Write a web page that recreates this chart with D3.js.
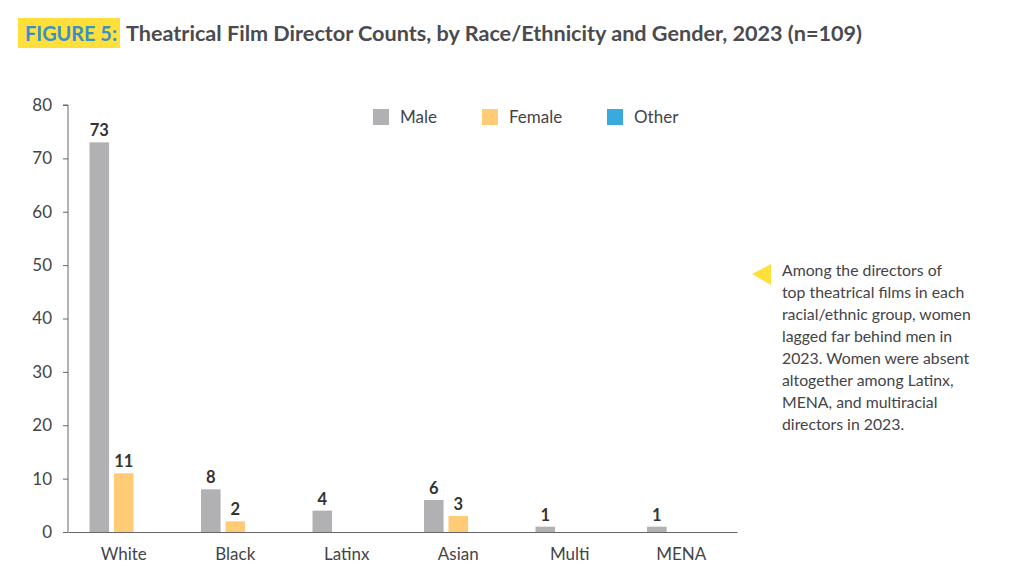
<!DOCTYPE html>
<html lang="en">
<head>
<meta charset="utf-8">
<title>Figure 5</title>
<script src="https://d3js.org/d3.v7.min.js"></script>
<style>
  body { margin: 0; background: #fff; font-family: Lato, "Open Sans", sans-serif; }
  svg text { fill: #444448; }
</style>
</head>
<body>
<script>
var categories = ["White", "Black", "Latinx", "Asian", "Multi", "MENA"];
var series = ["Male", "Female", "Other"];
var maleValues = [73, 8, 4, 6, 1, 1];
var femaleValues = [11, 2, 0, 3, 0, 0];
var otherValues = [0, 0, 0, 0, 0, 0];
var yTicks = [0, 10, 20, 30, 40, 50, 60, 70, 80];
var colors = ["#b1b1b3", "#ffcb77", "#3aaade"];
var noteLines = [
  "Among the directors of",
  "top theatrical films in each",
  "racial/ethnic group, women",
  "lagged far behind men in",
  "2023. Women were absent",
  "altogether among Latinx,",
  "MENA, and multiracial",
  "directors in 2023."
];

var width = 1020, height = 588;
var margin = {top: 105, left: 68, right: 283, bottom: 56};

var svg = d3.select("body").append("svg")
  .attr("width", width)
  .attr("height", height);

// title
svg.append("rect").attr("x", 18).attr("y", 18).attr("width", 102).attr("height", 30).attr("fill", "#ffe03a");
svg.append("text").attr("x", 25).attr("y", 41)
  .attr("textLength", 92).attr("lengthAdjust", "spacingAndGlyphs")
  .style("font-size", "20px").style("font-weight", "bold").style("fill", "#3a8fca")
  .text("FIGURE 5:");
svg.append("text").attr("x", 126).attr("y", 41)
  .attr("textLength", 736).attr("lengthAdjust", "spacingAndGlyphs")
  .style("font-size", "20.5px").style("font-weight", "bold").style("fill", "#4a4a50")
  .text("Theatrical Film Director Counts, by Race/Ethnicity and Gender, 2023 (n=109)");

var x0 = d3.scaleBand().domain(categories).range([margin.left, width - margin.right]);
var x1 = d3.scaleBand().domain(series).range([21.5, x0.bandwidth() - 21.5]).paddingInner(0.2);
var y = d3.scaleLinear().domain([0, 80]).range([height - margin.bottom, margin.top]);

var rows = categories.map(function(c, i) {
  return {cat: c, vals: [maleValues[i], femaleValues[i], otherValues[i]]};
});

// y axis
var yAxis = svg.append("g").attr("transform", "translate(" + margin.left + ",0)")
  .call(d3.axisLeft(y).tickValues(yTicks).tickSize(5).tickPadding(11));
yAxis.select(".domain").attr("stroke", "#666").attr("d", "M-5," + y(80) + "H0V" + y(0));
yAxis.selectAll(".tick line").attr("stroke", "#666");
yAxis.selectAll(".tick text").style("font-size", "17px").style("font-family", "Lato, sans-serif");

// x axis
var xAxis = svg.append("g").attr("transform", "translate(0," + y(0) + ")")
  .call(d3.axisBottom(x0).tickSize(0).tickPadding(16));
xAxis.select(".domain").attr("stroke", "#666");
xAxis.selectAll(".tick text").style("font-size", "17px").style("font-family", "Lato, sans-serif");

// bars
function barData(d) {
  return d.vals.map(function(v, j) { return {s: series[j], v: v, j: j}; })
    .filter(function(e) { return e.v > 0; });
}
var groups = svg.selectAll(".grp").data(rows).enter().append("g")
  .attr("class", "grp")
  .attr("transform", function(d) { return "translate(" + x0(d.cat) + ",0)"; });

groups.selectAll("rect").data(barData).enter().append("rect")
  .attr("x", function(d) { return x1(d.s); })
  .attr("width", x1.bandwidth())
  .attr("y", function(d) { return y(d.v); })
  .attr("height", function(d) { return y(0) - y(d.v); })
  .attr("fill", function(d) { return colors[d.j]; });

groups.selectAll("text.val").data(barData).enter().append("text")
  .attr("class", "val")
  .attr("x", function(d) { return x1(d.s) + x1.bandwidth() / 2; })
  .attr("y", function(d) { return y(d.v) - 6; })
  .attr("text-anchor", "middle")
  .style("font-size", "16.5px").style("font-weight", "bold").style("fill", "#333")
  .text(function(d) { return d.v; });

// legend
var legX = [373, 482, 607];
var leg = svg.selectAll(".leg").data(series).enter().append("g")
  .attr("transform", function(d, i) { return "translate(" + legX[i] + ",109)"; });
leg.append("rect").attr("width", 16).attr("height", 16).attr("fill", function(d, i) { return colors[i]; });
leg.append("text").attr("x", 27).attr("y", 14).style("font-size", "17px").text(function(d) { return d; });

// note
svg.append("path").attr("d", "M752,274L771,264L771,285Z").attr("fill", "#ffe03a");
svg.append("g").selectAll("text").data(noteLines).enter().append("text")
  .attr("x", 782).attr("y", function(d, i) { return 276 + i * 22; })
  .style("font-size", "15.8px")
  .text(function(d) { return d; });
</script>
</body>
</html>
